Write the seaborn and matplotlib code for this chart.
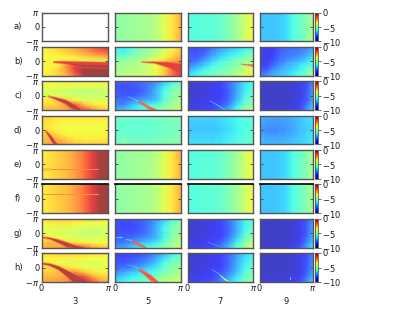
import numpy as np
import matplotlib
matplotlib.use('Agg')
import matplotlib.pyplot as plt
from matplotlib.colors import ListedColormap
import seaborn as sns

row_labels = ['a)', 'b)', 'c)', 'd)', 'e)', 'f)', 'g)', 'h)']
col_labels = ['3', '5', '7', '9']

# values, top row first, left to right
even_3 = [-3.4, -3.2, -2.9, -2.7, -2.3, -1.7, -0.9, -0.1, 0.0]
even_5 = [-5.2, -5.1, -5.0, -4.9, -4.8, -4.6, -3.9, -3.3, -2.5]
even_7 = [-6.1, -6.1, -6.0, -6.0, -5.8, -5.4, -4.9, -4.2, -3.5]
even_9 = [-7.0, -7.0, -7.0, -6.9, -6.7, -6.2, -5.8, -5.3, -4.8]

a3 = [[np.nan, np.nan], [np.nan, np.nan]]
a5 = [even_5, even_5]
a7 = [even_7, even_7]
a9 = [even_9, even_9]

b3 = [[-3.4, -3.2, -3.0, -2.7, -2.3, -1.9, -1.5, -1.0, -0.7],
      [-3.5, -3.4, -3.2, -3.0, -2.7, -2.3, -1.9, -1.5, -1.2],
      [-3.5, -3.5, -3.5, -3.4, -3.2, -3.0, -2.8, -2.6, -2.4],
      [-3.5, -3.5, -3.5, -3.5, -3.6, -3.8, -3.9, -4.0, -4.0],
      [-3.5, -3.5, -3.3, -2.0, -0.9, -0.5, -0.3, -0.2, -0.2],
      [-3.5, -3.4, -3.0, -2.2, -0.9, 0.0, 0.0, 0.0, 0.0],
      [-3.4, -3.3, -3.0, -2.6, -1.5, -0.3, 0.0, 0.0, 0.0]]
b5 = [[-6.3, -6.4, -6.0, -5.6, -5.2, -4.7, -4.2, -3.6, -3.0],
      [-6.3, -6.4, -5.9, -5.4, -5.0, -4.6, -4.0, -3.3, -2.7],
      [-5.7, -5.7, -5.3, -5.0, -4.7, -4.2, -3.6, -3.0, -2.5],
      [-5.2, -5.1, -4.9, -4.7, -4.2, -3.5, -3.0, -2.4, -2.0],
      [-4.9, -4.8, -4.7, -4.6, -4.3, -3.7, -3.0, -1.8, -1.0],
      [-4.8, -4.7, -4.6, -4.5, -4.2, -3.8, -3.0, -1.6, -0.4],
      [-4.7, -4.6, -4.5, -4.4, -4.1, -3.5, -2.8, -1.6, -0.6]]
b7 = [[-8.4, -8.6, -8.5, -8.0, -7.6, -7.2, -6.9, -6.6, -6.3],
      [-8.4, -8.5, -8.3, -7.7, -7.2, -6.8, -6.5, -6.1, -5.7],
      [-8.3, -8.4, -8.0, -7.3, -6.8, -6.4, -6.0, -5.6, -5.2],
      [-8.1, -8.0, -7.4, -6.8, -6.3, -5.9, -5.5, -5.0, -4.6],
      [-7.8, -7.4, -6.8, -6.2, -5.9, -5.6, -5.2, -4.7, -4.2],
      [-7.2, -6.7, -6.2, -5.9, -5.6, -5.3, -4.9, -4.3, -3.7],
      [-6.6, -6.2, -5.9, -5.6, -5.3, -5.0, -4.5, -3.9, -3.2]]
b9 = [[-8.6, -9.2, -8.8, -8.3, -8.2, -8.2, -8.0, -7.8, -7.4],
      [-8.6, -9.2, -8.8, -8.3, -8.1, -8.0, -7.9, -7.6, -7.1],
      [-8.7, -9.2, -8.8, -8.2, -8.0, -7.8, -7.6, -7.2, -6.7],
      [-8.7, -9.1, -8.5, -8.0, -7.7, -7.4, -7.1, -6.7, -6.2],
      [-8.6, -8.8, -8.1, -7.6, -7.2, -7.0, -6.6, -6.2, -5.6],
      [-8.4, -8.2, -7.6, -7.2, -7.0, -6.7, -6.3, -5.8, -5.2],
      [-8.0, -7.6, -7.2, -7.0, -6.8, -6.4, -6.0, -5.4, -4.9]]

c3 = [[-3.5, -3.4, -3.3, -3.3, -3.3, -3.3, -3.3, -3.3, -3.3],
      [-3.7, -3.7, -3.8, -3.9, -3.9, -3.9, -3.9, -3.9, -3.8],
      [-4.0, -4.0, -4.1, -4.2, -4.3, -4.4, -4.4, -4.3, -4.2],
      [-3.9, -4.0, -4.0, -4.1, -4.2, -4.3, -4.3, -4.3, -4.2],
      [-3.4, -3.3, -2.8, -3.0, -3.5, -3.8, -3.9, -3.9, -3.8],
      [-3.0, -3.0, -2.9, -2.0, -1.0, -2.6, -3.2, -3.4, -3.4],
      [-2.7, -2.6, -2.6, -2.5, -1.5, -0.8, -1.8, -2.6, -2.9]]
c5 = [[-8.2, -8.3, -8.3, -8.2, -8.0, -7.6, -7.0, -6.4, -6.0],
      [-8.4, -8.5, -8.5, -8.3, -8.0, -7.4, -6.6, -5.8, -5.4],
      [-8.4, -8.5, -8.5, -8.4, -7.9, -7.2, -6.2, -5.4, -5.1],
      [-8.2, -8.4, -8.4, -8.1, -7.8, -7.2, -6.2, -5.3, -5.0],
      [-8.0, -8.1, -7.9, -7.5, -7.3, -7.0, -6.0, -5.2, -4.8],
      [-7.7, -7.8, -7.0, -6.6, -6.3, -6.0, -5.4, -4.9, -4.5],
      [-7.2, -7.0, -6.6, -6.2, -5.9, -5.4, -5.0, -4.6, -4.2]]
c7 = [[-9.3, -9.3, -9.2, -9.0, -8.8, -8.2, -7.4, -6.6, -6.2],
      [-9.3, -9.4, -9.3, -9.1, -8.8, -8.2, -7.4, -6.5, -6.0],
      [-9.4, -9.4, -9.3, -9.1, -8.8, -8.3, -7.4, -6.4, -5.9],
      [-9.4, -9.4, -9.3, -9.1, -8.8, -8.3, -7.3, -6.3, -5.7],
      [-9.3, -9.3, -9.2, -9.0, -8.7, -8.2, -7.1, -6.0, -5.4],
      [-9.2, -9.2, -9.1, -8.9, -8.5, -7.8, -6.6, -5.6, -5.0],
      [-9.0, -9.0, -8.9, -8.6, -8.1, -7.2, -6.0, -5.1, -4.4]]
c9 = [[-9.4, -9.5, -9.5, -9.5, -9.5, -9.4, -9.2, -8.6, -7.8],
      [-9.4, -9.5, -9.5, -9.5, -9.5, -9.4, -9.2, -8.5, -7.6],
      [-9.4, -9.5, -9.5, -9.5, -9.5, -9.4, -9.2, -8.5, -7.5],
      [-9.4, -9.5, -9.5, -9.5, -9.5, -9.4, -9.2, -8.5, -7.4],
      [-9.4, -9.5, -9.5, -9.5, -9.5, -9.4, -9.1, -8.4, -7.3],
      [-9.4, -9.5, -9.5, -9.5, -9.4, -9.3, -8.9, -8.1, -7.0],
      [-9.3, -9.4, -9.4, -9.4, -9.3, -9.1, -8.6, -7.7, -6.6]]

d3 = [[-2.8, -3.0, -3.1, -3.1, -3.1, -3.2, -3.2, -3.2, -3.1],
      [-3.1, -3.2, -3.4, -3.4, -3.4, -3.4, -3.4, -3.4, -3.4],
      [-3.2, -3.3, -3.5, -3.6, -3.6, -3.6, -3.6, -3.6, -3.5],
      [-3.1, -3.2, -3.4, -3.6, -3.6, -3.6, -3.6, -3.6, -3.5],
      [-2.9, -2.8, -3.1, -3.4, -3.5, -3.5, -3.5, -3.5, -3.4],
      [-2.7, -2.6, -2.4, -2.9, -3.2, -3.3, -3.3, -3.3, -3.2],
      [-2.5, -2.4, -2.1, -2.4, -2.8, -2.9, -3.0, -3.0, -2.9]]
d5 = [[-5.7, -5.8, -5.8, -5.8, -5.8, -5.7, -5.6, -5.5, -5.4],
      [-5.9, -5.9, -5.9, -5.9, -5.9, -5.8, -5.7, -5.6, -5.5],
      [-5.5, -5.5, -5.5, -5.5, -5.5, -5.5, -5.4, -5.3, -5.2]]
d7 = [[-6.8, -6.8, -6.8, -6.8, -6.7, -6.5, -6.3, -6.1, -6.0],
      [-7.0, -7.0, -7.0, -7.0, -6.9, -6.7, -6.4, -6.2, -6.0],
      [-6.6, -6.6, -6.6, -6.6, -6.5, -6.3, -6.1, -5.9, -5.8]]
d9 = [[-7.2, -7.3, -7.4, -7.4, -7.3, -7.2, -7.0, -6.8, -6.6],
      [-7.5, -7.7, -7.8, -7.7, -7.6, -7.4, -7.1, -6.9, -6.7],
      [-7.0, -7.1, -7.1, -7.1, -7.0, -6.9, -6.8, -6.6, -6.4]]

e3 = [even_3, even_3]
e5 = [even_5, even_5]
e7 = [even_7, even_7]
e9 = [even_9, even_9]

f3 = [even_3, even_3]
f5 = [even_5, even_5]
f7 = [even_7, even_7]
f9 = [even_9, even_9]

g3 = [[-3.2, -3.0, -2.9, -2.9, -2.9, -2.9, -3.0, -3.1, -3.2],
      [-3.5, -3.4, -3.3, -3.3, -3.4, -3.6, -3.7, -3.7, -3.6],
      [-3.9, -3.9, -3.9, -3.9, -4.0, -4.1, -4.2, -4.2, -4.1],
      [-3.8, -3.9, -4.0, -4.1, -4.2, -4.3, -4.3, -4.2, -4.1],
      [-3.2, -3.4, -3.6, -3.8, -4.0, -4.1, -4.1, -4.0, -3.9],
      [-2.9, -2.6, -2.9, -3.1, -3.3, -3.5, -3.6, -3.6, -3.5],
      [-2.6, -2.4, -2.2, -1.8, -1.2, -1.2, -2.0, -2.6, -2.9]]
g5 = [[-8.4, -8.5, -8.4, -8.3, -8.0, -7.6, -7.0, -6.3, -5.9],
      [-8.5, -8.6, -8.6, -8.4, -8.1, -7.4, -6.6, -5.7, -5.3],
      [-8.5, -8.6, -8.6, -8.4, -8.0, -7.3, -6.3, -5.4, -5.0],
      [-8.4, -8.5, -8.5, -8.3, -7.9, -7.3, -6.4, -5.3, -4.9],
      [-8.2, -8.3, -8.2, -7.9, -7.6, -7.2, -6.3, -5.3, -4.8],
      [-8.0, -8.0, -7.7, -7.2, -6.9, -6.5, -5.8, -5.0, -4.6],
      [-7.5, -7.4, -6.9, -6.5, -6.1, -5.7, -5.2, -4.7, -4.3]]
g7 = [[-9.3, -9.3, -9.2, -9.0, -8.7, -8.1, -7.2, -6.4, -6.0],
      [-9.3, -9.4, -9.3, -9.1, -8.8, -8.2, -7.3, -6.4, -5.9],
      [-9.4, -9.4, -9.3, -9.1, -8.8, -8.2, -7.3, -6.3, -5.7],
      [-9.4, -9.4, -9.3, -9.1, -8.8, -8.2, -7.2, -6.1, -5.4],
      [-9.3, -9.3, -9.2, -9.0, -8.6, -8.0, -6.9, -5.8, -5.0],
      [-9.2, -9.2, -9.1, -8.8, -8.3, -7.6, -6.4, -5.3, -4.5],
      [-9.0, -9.0, -8.8, -8.5, -8.0, -7.0, -5.8, -4.8, -4.0]]
g9 = [[-9.4, -9.5, -9.5, -9.5, -9.5, -9.4, -9.1, -8.5, -7.7],
      [-9.4, -9.5, -9.5, -9.5, -9.5, -9.4, -9.1, -8.4, -7.5],
      [-9.4, -9.5, -9.5, -9.5, -9.5, -9.4, -9.1, -8.4, -7.4],
      [-9.4, -9.5, -9.5, -9.5, -9.5, -9.4, -9.1, -8.4, -7.3],
      [-9.4, -9.5, -9.5, -9.5, -9.5, -9.3, -9.0, -8.2, -7.1],
      [-9.4, -9.5, -9.5, -9.5, -9.4, -9.2, -8.8, -7.9, -6.8],
      [-9.3, -9.4, -9.4, -9.4, -9.3, -9.0, -8.4, -7.5, -6.4]]

h3 = [[-3.0, -2.9, -2.8, -2.8, -2.8, -2.9, -3.0, -3.1, -3.1],
      [-3.4, -3.4, -3.4, -3.4, -3.4, -3.5, -3.6, -3.6, -3.6],
      [-3.4, -3.5, -3.7, -3.8, -3.9, -3.9, -3.9, -3.9, -3.8],
      [-3.2, -3.1, -3.2, -3.2, -3.4, -3.7, -3.8, -3.8, -3.7],
      [-2.9, -2.9, -2.8, -2.5, -2.0, -2.8, -3.3, -3.4, -3.4],
      [-2.6, -2.6, -2.5, -2.3, -1.0, -0.8, -2.2, -2.9, -3.0],
      [-2.4, -2.3, -2.2, -2.0, -1.2, -0.4, -1.0, -2.0, -2.5]]
h5 = [[-9.0, -8.8, -8.7, -8.6, -8.3, -7.8, -7.2, -6.6, -6.2],
      [-8.7, -8.6, -8.5, -8.3, -8.0, -7.4, -6.7, -6.0, -5.7],
      [-8.5, -8.4, -8.3, -8.0, -7.6, -7.0, -6.2, -5.6, -5.3],
      [-8.2, -8.1, -7.9, -7.4, -7.0, -6.5, -5.9, -5.3, -5.0],
      [-7.8, -7.4, -7.0, -6.7, -6.4, -6.0, -5.5, -5.0, -4.8],
      [-7.2, -6.8, -6.4, -6.2, -5.9, -5.5, -5.0, -4.7, -4.5],
      [-6.5, -6.3, -6.0, -5.8, -5.5, -5.0, -4.6, -4.3, -4.2]]
h7 = [[-9.5, -9.5, -9.3, -9.1, -8.8, -8.3, -7.5, -6.8, -6.4],
      [-9.4, -9.4, -9.3, -9.1, -8.8, -8.2, -7.4, -6.6, -6.2],
      [-9.4, -9.4, -9.3, -9.1, -8.8, -8.2, -7.3, -6.5, -6.0],
      [-9.4, -9.3, -9.2, -9.0, -8.7, -8.1, -7.2, -6.3, -5.8],
      [-9.3, -9.2, -9.1, -8.9, -8.5, -7.9, -7.0, -6.1, -5.5],
      [-9.2, -9.1, -8.9, -8.7, -8.2, -7.5, -6.6, -5.8, -5.2],
      [-9.0, -8.9, -8.7, -8.4, -7.8, -7.0, -6.1, -5.4, -4.9]]
h9 = [[-9.6, -9.6, -9.6, -9.6, -9.6, -9.5, -9.2, -8.6, -7.9],
      [-9.5, -9.5, -9.5, -9.5, -9.5, -9.4, -9.2, -8.5, -7.7],
      [-9.4, -9.5, -9.5, -9.5, -9.5, -9.4, -9.2, -8.5, -7.6],
      [-9.4, -9.5, -9.5, -9.5, -9.5, -9.4, -9.2, -8.5, -7.5],
      [-9.4, -9.5, -9.5, -9.5, -9.4, -9.3, -9.1, -8.4, -7.4],
      [-9.4, -9.4, -9.4, -9.4, -9.3, -9.2, -8.9, -8.1, -7.1],
      [-9.3, -9.3, -9.3, -9.3, -9.2, -9.0, -8.6, -7.7, -6.7]]

panels = [[a3, a5, a7, a9], [b3, b5, b7, b9], [c3, c5, c7, c9], [d3, d5, d7, d9],
          [e3, e5, e7, e9], [f3, f5, f7, f9], [g3, g5, g7, g9], [h3, h5, h7, h9]]

# thin ridges: (value, x, upper edge, lower edge) as fractions of the panel, y from the top
ridges = {
    (1, 0): [(-0.3, [.18, .45, .6, 1], [.5, .53, .54, .55], [.5, .6, .68, .72]),
             (-0.8, [.18, .3, .6, 1], [.5, .49, .5, .53], [.51, .53, .56, .58])],
    (1, 1): [(-0.8, [.4, .6, .8, 1], [.5, .5, .52, .58], [.5, .54, .68, .9])],
    (1, 2): [(-4.8, [.55, .7, .8], [.5, .54, .56], [.51, .56, .59]),
             (-1.6, [.8, .9, 1], [.56, .58, .58], [.59, .63, .68])],
    (1, 3): [(-6.3, [.5, .75, 1], [.5, .58, .66], [.51, .59, .69])],
    (2, 0): [(-0.3, [.09, .2, .35, .45, .57], [.5, .55, .64, .76, .95], [.5, .6, .76, .92, 1])],
    (2, 1): [(-5.8, [.18, .27, .36], [.5, .58, .68], [.51, .6, .71]),
             (-1.4, [.36, .45, .52, .62], [.68, .78, .88, .98], [.71, .84, .95, 1])],
    (2, 2): [(-6.6, [.33, .45, .57], [.65, .8, .97], [.67, .83, 1])],
    (3, 0): [(-0.2, [.05, .1, .15, .2, .24], [.5, .6, .72, .9, 1], [.5, .68, .88, 1, 1])],
    (3, 1): [(-4.4, [.14, .17], [.9, .9], [1, 1])],
    (4, 0): [(-2.7, [0, .16], [.62, .62], [.74, .74]),
             (-1.9, [.16, .86], [.67, .67], [.71, .71])],
    (5, 0): [(-2.0, [0, .86], [.33, .33], [.37, .37])],
    (6, 0): [(-0.4, [0, .12, .25, .38, .5, .66], [.62, .65, .72, .82, .92, 1], [.64, .69, .82, .97, 1, 1])],
    (6, 1): [(-6.8, [.02, .12], [.64, .64], [.66, .66]),
             (-5.8, [.16, .26], [.7, .72], [.72, .75]),
             (-1.4, [.26, .36, .46], [.74, .86, .98], [.77, .91, 1])],
    (6, 2): [(-7.2, [.3, .42, .5], [.78, .88, .98], [.8, .9, 1])],
    (7, 0): [(-0.3, [0, .12, .25, .38, .48, .6, .72], [.33, .36, .45, .6, .72, .86, 1], [.36, .42, .56, .8, 1, 1, 1])],
    (7, 1): [(-6.4, [.18, .3, .36], [.38, .44, .52], [.39, .46, .55]),
             (-1.2, [.36, .45, .54, .64], [.54, .64, .76, .96], [.57, .73, .93, 1])],
    (7, 2): [(-6.8, [.36, .48], [.54, .7], [.56, .73]),
             (-4.4, [.48, .56, .64], [.72, .86, .98], [.75, .92, 1])],
    (7, 3): [(-7.0, [.57, .585], [.84, .84], [.92, .92])],
}

# panel edges in pixels, measured on the 415x313 picture
FIG_W, FIG_H = 415, 313
col_edges = [(41.5, 108.3), (114.8, 180.5), (187.5, 253.3), (259.5, 313.0)]
row_edges = [(12.8, 41.2), (47.2, 75.7), (81.4, 110.0), (116.2, 144.5),
             (150.2, 178.5), (184.4, 213.0), (218.8, 247.5), (253.0, 282.0)]
cbar_edges = (315.0, 318.0)

TEXT = '#1a1a1a'
EDGE = '#555555'
ALPHA = 0.75
cmap = plt.get_cmap('jet')
norm = plt.Normalize(-10, 0)
# jet laid over white at 75% opacity, opaque so the gouraud triangles show no seams
faded = ListedColormap(ALPHA * cmap(np.linspace(0, 1, 256))[:, :3] + (1 - ALPHA))
plt.rcParams['font.size'] = 6
plt.rcParams['mathtext.fontset'] = 'dejavusans'

fig = plt.figure(figsize=(FIG_W / 100, FIG_H / 100), dpi=100)


def place(x0, x1, y0, y1):
    return fig.add_axes([x0 / FIG_W, 1 - y1 / FIG_H, (x1 - x0) / FIG_W, (y1 - y0) / FIG_H])


for r, (y0, y1) in enumerate(row_edges):
    for c, (x0, x1) in enumerate(col_edges):
        ax = place(x0, x1, y0, y1)
        data = np.array(panels[r][c], dtype=float)
        nrow, ncol = data.shape
        sns.heatmap(data, ax=ax, cmap=faded, vmin=-10, vmax=0, cbar=False,
                    shading='gouraud', antialiased=False, xticklabels=False, yticklabels=False)
        for value, xs, upper, lower in ridges.get((r, c), []):
            px = np.array(xs) * (ncol - 1)
            top = np.array(upper) * (nrow - 1)
            low = np.array(lower) * (nrow - 1)
            # the hot ridges have a soft red rim
            if value > -1.5:
                ax.fill_between(px, top, low, color=faded(norm(-1.2)), alpha=0.5, lw=1.4)
            ax.fill_between(px, top, low, color=faded(norm(value)), lw=0)
        ax.set_xlim(0, ncol - 1)
        ax.set_ylim(nrow - 1, 0)
        ax.set_yticks([0, (nrow - 1) / 2, nrow - 1])
        ax.set_xticks([0, ncol - 1])
        ax.tick_params(direction='in', length=2.5, width=0.7, color=EDGE, labelcolor=TEXT,
                       left=True, right=True, top=False, bottom=False, pad=1.5,
                       labelsize=6)
        for side in ax.spines.values():
            side.set_visible(True)
            side.set_color(EDGE)
            side.set_linewidth(1.0)
        if r == 5:
            ax.spines['top'].set_color('#111111')
            ax.spines['top'].set_linewidth(1.3)
        if c == 0:
            ax.set_yticklabels([r'$\pi$', '0', r'$-\pi$'])
            ax.set_ylabel(row_labels[r], rotation=0, ha='center', va='center', color=TEXT, fontsize=6)
            ax.yaxis.set_label_coords(-0.35, 0.5)
        else:
            ax.set_yticklabels([])
        if r == len(row_edges) - 1:
            ax.set_xticklabels(['0', r'$\pi$'])
            ax.set_xlabel(col_labels[c], color=TEXT, fontsize=6)
            ax.xaxis.set_label_coords(0.5, -0.52)
        else:
            ax.set_xticklabels([])

    cax = place(cbar_edges[0], cbar_edges[1], y0, y1)
    cb = fig.colorbar(plt.cm.ScalarMappable(norm=norm, cmap=cmap), cax=cax, ticks=[0, -5, -10])
    cb.ax.set_yticklabels(['0', r'$-5$', r'$-10$'])
    cb.ax.tick_params(length=2, width=0.6, color=EDGE, labelcolor=TEXT, pad=1, labelsize=6)
    cb.outline.set_edgecolor(EDGE)
    cb.outline.set_linewidth(0.6)

fig.savefig('out.png', dpi=100)
